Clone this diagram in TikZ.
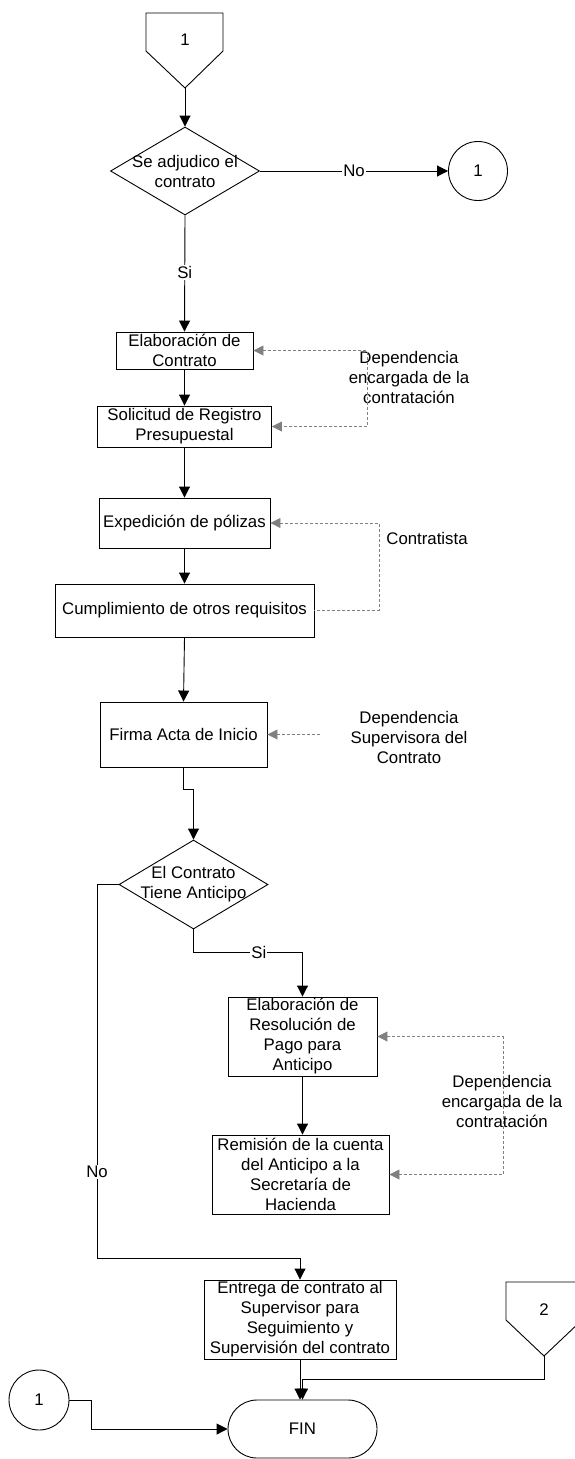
\documentclass[tikz,border=0pt]{standalone}
\usepackage{fontspec}
\setmainfont{Liberation Sans}
\usetikzlibrary{arrows.meta,shapes.geometric,shapes.misc}
\begin{document}
\begin{tikzpicture}[x=1pt,y=-1pt,
  every node/.style={font=\fontsize{16.8}{20}\selectfont},
  box/.style={draw, line width=0.9pt, inner sep=0pt, align=center},
  dec/.style={draw, diamond, line width=0.9pt, inner sep=0pt, minimum width=149pt, minimum height=88pt},
  conn/.style={draw, circle, line width=0.9pt, inner sep=0pt, minimum size=59pt},
  flow/.style={line width=0.9pt, -{Triangle[width=11pt,length=11pt]}},
  plain/.style={line width=0.9pt},
  dsh/.style={gray, line width=0.8pt, dash pattern=on 3pt off 2pt},
  tipd/.style={{Triangle[width=10pt,length=10pt]}-},
  tipboth/.style={{Triangle[width=10pt,length=10pt]}-{Triangle[width=10pt,length=10pt]}},
  lbl/.style={fill=white, inner sep=1pt},
  note/.style={align=center, inner sep=0pt}
]
\useasboundingbox (0,0) rectangle (574,1459);

% top off-page connector
\draw[plain] (146,13) -- (223,13) -- (223,51) -- (185,88) -- (146,51) -- cycle;
\node (k1) at (185,40) {1};
\coordinate (k1tip) at (185,88);

% decision 1
\node[dec] (d1) at (185,171) {};
\node[align=center, inner sep=0pt] at (185,171) {Se adjudico el\\contrato};
\node[conn] (c1r) at (478,171) {1};

% boxes
\node[box, minimum width=137pt, minimum height=37pt] (b1) at (184.5,350.5) {Elaboración de\\Contrato};
\node[box, minimum width=174pt, minimum height=41pt] (b2) at (184.5,426.5) {Solicitud de Registro\\Presupuestal};
\node[box, minimum width=171pt, minimum height=50pt] (b3) at (184.5,523) {Expedición de pólizas};
\node[box, minimum width=259pt, minimum height=53pt] (b4) at (184.5,610.5) {Cumplimiento de otros requisitos};
\node[box, minimum width=167pt, minimum height=65pt] (b5) at (183.5,734.5) {Firma Acta de Inicio};

% decision 2
\node[dec, minimum height=89pt] (d2) at (193.5,884.5) {};
\node[align=center, inner sep=0pt] at (193.5,884.5) {El Contrato\\Tiene Anticipo};

\node[box, minimum width=149pt, minimum height=79pt] (b6) at (302.5,1036.5) {Elaboración de\\Resolución de\\Pago para\\Anticipo};
\node[box, minimum width=177pt, minimum height=79pt] (b7) at (300.5,1174.5) {Remisión de la cuenta\\del Anticipo a la\\Secretaría de\\Hacienda};
\node[box, minimum width=192pt, minimum height=79pt] (b8) at (300,1319.5) {Entrega de contrato al\\Supervisor para\\Seguimiento y\\Supervisión del contrato};

\node[draw, rounded rectangle, line width=0.9pt, minimum width=149pt, minimum height=58pt, inner sep=0pt] (fin) at (302.5,1429) {FIN};
\node[conn, minimum size=60pt] (c1l) at (39,1400) {1};

% bottom-right off-page connector
\draw[plain] (506,1282) -- (582,1282) -- (582,1320) -- (544,1356) -- (506,1320) -- cycle;
\node (k2) at (544,1310) {2};
\coordinate (k2tip) at (544,1356);

% notes
\node[note] (n1) at (409,377) {Dependencia\\encargada de la\\contratación};
\node[note] (n2) at (427,538) {Contratista};
\node[note] (n3) at (409,737) {Dependencia\\Supervisora del\\Contrato};
\node[note] (n4) at (502,1101) {Dependencia\\encargada de la\\contratación};

% solid connectors
\draw[flow] (k1tip) -- (d1.north);
\draw[flow] (d1.east) -- node[lbl] {No} (c1r.west);
\draw[flow] (d1.south) -- node[lbl, pos=0.49] {Si} (b1.north);
\draw[flow] (b1.south) -- (b2.north);
\draw[flow] (b2.south) -- (b3.north);
\draw[flow] (b3.south) -- (b4.north);
\draw[flow] (b4.south) -- (b5.north);
\draw[flow] (b5.south) -- (b5.south |- 0,789) -- (d2.north |- 0,789) -- (d2.north);
\draw[flow] (d2.south) -- (d2.south |- 0,952) -- node[lbl, pos=0.6] {Si} (b6.north |- 0,952) -- (b6.north);
\draw[flow] (d2.west) -- (97,884.5) -- node[lbl, pos=0.77] {No} (97,1258) -- (b8.north |- 0,1258) -- (b8.north);
\draw[flow] (b6.south) -- (b6.south |- b7.north);
\draw[flow] (b8.south) -- (b8.south |- fin.north);
\draw[flow] (k2tip) -- (544,1379) -- (fin.north |- 0,1379) -- (fin.north);
\draw[flow] (c1l.east) -- (91,1400) -- (91,1429) -- (fin.west);

% dashed connectors
\draw[dsh, tipboth] (b1.east) -- (367,350.5) -- (367,426.5) -- (b2.east);
\draw[dsh, tipd] (b3.east) -- (379,523) -- (379,610.5) -- (b4.east);
\draw[dsh, tipd] (b5.east) -- (321,734.5);
\draw[dsh, tipboth] (b6.east) -- (503,1036.5) -- (503,1174.5) -- (b7.east);
\end{tikzpicture}
\end{document}
